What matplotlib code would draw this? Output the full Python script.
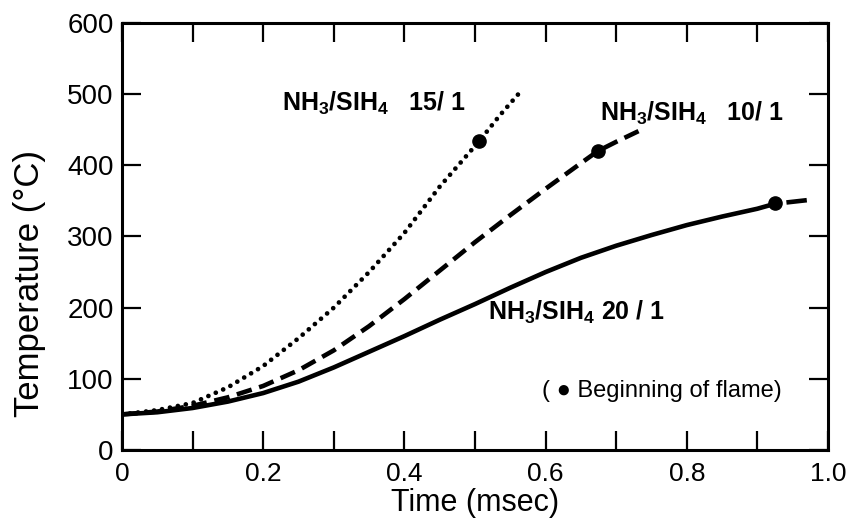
import matplotlib
matplotlib.use('Agg')
import matplotlib.pyplot as plt
from matplotlib.ticker import MultipleLocator

plt.rcParams['font.family'] = ['Liberation Sans', 'DejaVu Sans']
plt.rcParams['mathtext.default'] = 'regular'

# NH3/SiH4 20/1 (solid)
t_20 = [0.00, 0.05, 0.10, 0.15, 0.20, 0.25, 0.30, 0.35, 0.40, 0.45, 0.50,
        0.55, 0.60, 0.65, 0.70, 0.75, 0.80, 0.85, 0.90, 0.925]
T_20 = [50, 53, 59, 68, 80, 96, 116, 138, 160, 183, 205,
        228, 250, 270, 287, 302, 316, 328, 339, 346]
# part after the flame point
t_20_after = [0.925, 0.97]
T_20_after = [346, 351]

# NH3/SiH4 10/1 (dashed)
t_10 = [0.00, 0.05, 0.10, 0.15, 0.20, 0.25, 0.30, 0.35, 0.40, 0.45, 0.50,
        0.55, 0.60, 0.65, 0.674, 0.70, 0.74]
T_10 = [50, 54, 62, 74, 90, 112, 140, 174, 212, 252, 292,
        330, 367, 403, 420, 433, 452]

# NH3/SiH4 15/1 (dotted)
t_15 = [0.00, 0.05, 0.10, 0.15, 0.20, 0.25, 0.30, 0.35, 0.40, 0.45,
        0.506, 0.535, 0.564]
T_15 = [50, 56, 66, 88, 118, 157, 200, 250, 305, 370,
        434, 470, 503]

# beginning of flame
flame_t = [0.506, 0.674, 0.925]
flame_T = [434, 420, 347]

x_ticks = [0, 0.2, 0.4, 0.6, 0.8, 1.0]
x_labels = ['0', '0.2', '0.4', '0.6', '0.8', '1.0']
y_ticks = [0, 100, 200, 300, 400, 500, 600]

fig = plt.figure(figsize=(8.52, 5.21), dpi=100)
ax = fig.add_axes([0.1432, 0.1363, 0.8286, 0.8196])

lw = 3.3
ax.plot(t_20, T_20, color='black', lw=lw, solid_capstyle='round')
ax.plot(t_20_after, T_20_after, color='black', lw=lw, linestyle=(5, (5, 2.5)))
ax.plot(t_10, T_10, color='black', lw=lw, linestyle=(0, (3.4, 1.7)))
ax.plot(t_15, T_15, color='black', lw=3.4, linestyle=(0, (0.01, 1.7)),
        dash_capstyle='round')
ax.plot(flame_t, flame_T, 'o', color='black', ms=9.5)

ax.set_xlim(0, 1.0)
ax.set_ylim(0, 600)
ax.set_xticks(x_ticks)
ax.set_xticklabels(x_labels)
ax.xaxis.set_minor_locator(MultipleLocator(0.1))
ax.set_yticks(y_ticks)

ax.tick_params(which='both', direction='in', top=True, right=True,
               length=14, width=1.6, color='black')
ax.tick_params(axis='x', which='major', labelsize=19, pad=9)
ax.tick_params(axis='y', which='major', labelsize=20, pad=6)
for sp in ax.spines.values():
    sp.set_linewidth(2.2)

ax.set_xlabel('Time (msec)', fontsize=22, labelpad=1)
ax.set_ylabel('Temperature (°C)', fontsize=25)
ax.yaxis.set_label_coords(-0.108, 0.39)

fs = 18
ax.text(0.227, 476, 'NH$_3$/SIH$_4$   15/ 1', fontsize=fs, fontweight='bold')
ax.text(0.677, 462, 'NH$_3$/SIH$_4$   10/ 1', fontsize=fs, fontweight='bold')
ax.text(0.518, 183, 'NH$_3$/SIH$_4$ 20 / 1', fontsize=fs, fontweight='bold')
ax.text(0.595, 75, '( ● Beginning of flame)', fontsize=17)

fig.savefig('out.png', dpi=100)
